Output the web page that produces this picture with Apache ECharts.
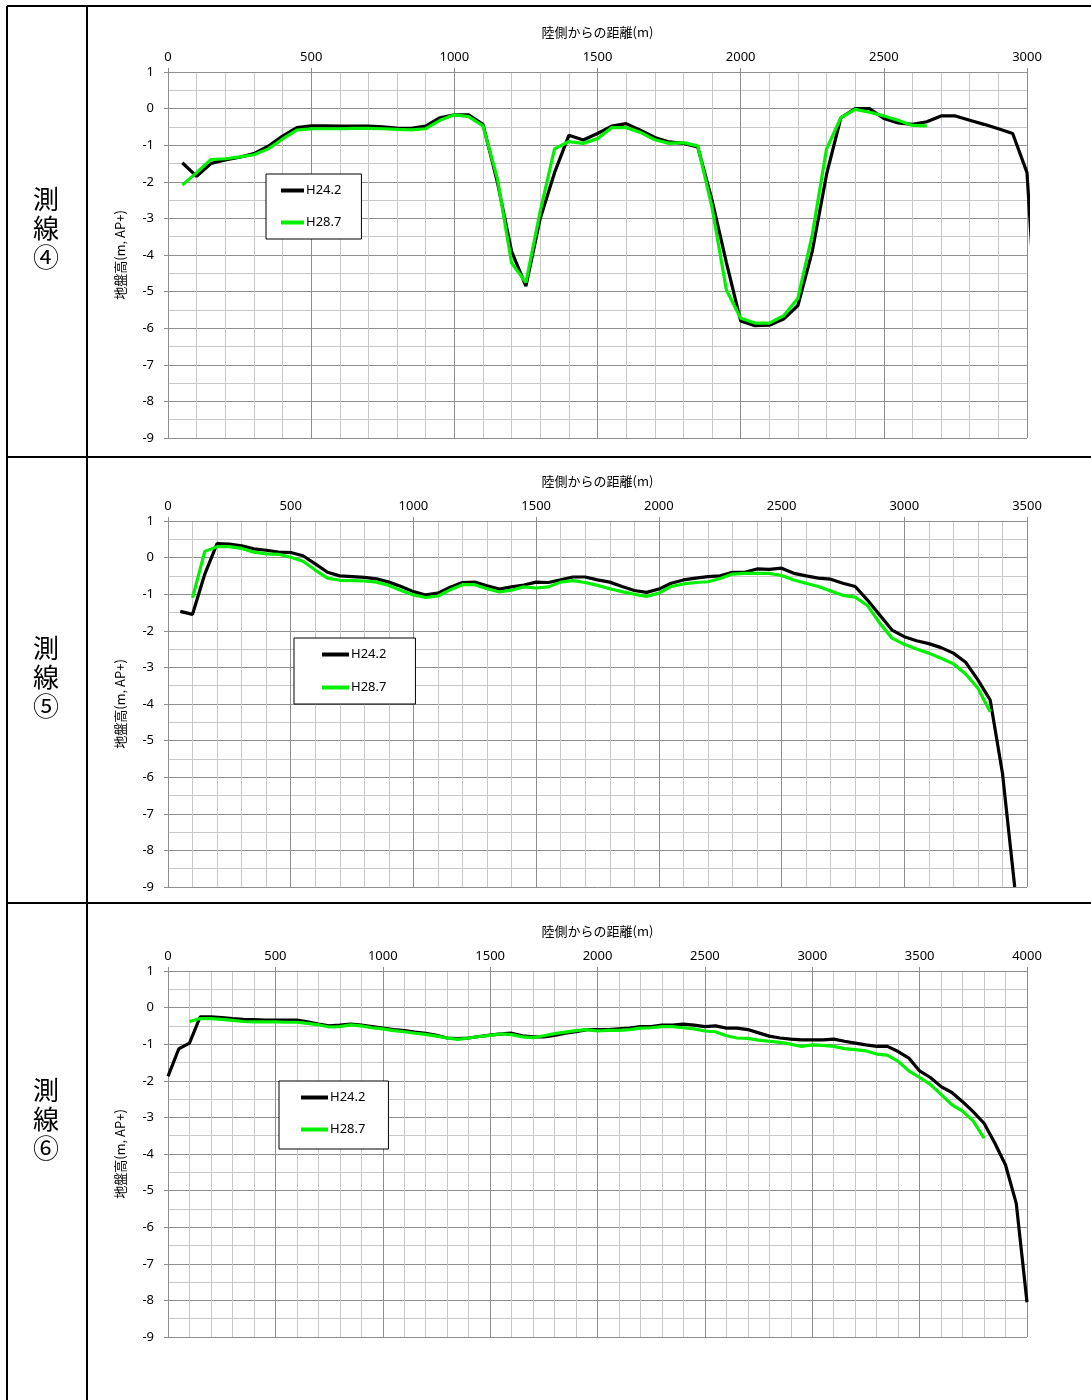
<!DOCTYPE html>
<html>
<head>
    <meta charset="utf-8">
    <title>測線 地盤高</title>
    <script src="https://cdn.jsdelivr.net/npm/echarts@6/dist/echarts.min.js"></script>
    <style>
        body { margin: 0; background: #fff; }
    </style>
</head>
<body>
    <div id="main" style="width: 1091px;height:1400px;"></div>
    <script type="text/javascript">
        // 陸側からの距離(m)
        var dist4 = [50,100,150,200,250,300,350,400,450,500,550,600,650,700,750,800,850,900,950,1000,
            1050,1100,1150,1200,1250,1300,1350,1400,1450,1500,1550,1600,1650,1700,1750,1800,1850,1900,1950,2000,
            2050,2100,2150,2200,2250,2300,2350,2400,2450,2500,2550,2600,2650,2700,2750,2800,2850,2900,2950,3000,3050];
        var dist5 = [50,100,150,200,250,300,350,400,450,500,550,600,650,700,750,800,850,900,950,1000,
            1050,1100,1150,1200,1250,1300,1350,1400,1450,1500,1550,1600,1650,1700,1750,1800,1850,1900,1950,2000,
            2050,2100,2150,2200,2250,2300,2350,2400,2450,2500,2550,2600,2650,2700,2750,2800,2850,2900,2950,3000,
            3050,3100,3150,3200,3250,3300,3350,3400,3450];
        var dist6 = [0,50,100,150,200,250,300,350,400,450,500,550,600,650,700,750,800,850,900,950,1000,
            1050,1100,1150,1200,1250,1300,1350,1400,1450,1500,1550,1600,1650,1700,1750,1800,1850,1900,1950,2000,
            2050,2100,2150,2200,2250,2300,2350,2400,2450,2500,2550,2600,2650,2700,2750,2800,2850,2900,2950,3000,
            3050,3100,3150,3200,3250,3300,3350,3400,3450,3500,3550,3600,3650,3700,3750,3800,3850,3900,3950,4000];

        // 地盤高(m, AP+)  測線④
        var l4_h24 = [-1.48,-1.85,-1.5,-1.4,-1.33,-1.23,-1.03,-0.75,-0.52,-0.47,
            -0.47,-0.48,-0.48,-0.48,-0.5,-0.53,-0.54,-0.48,-0.25,-0.17,
            -0.17,-0.43,-2.0,-3.9,-4.85,-3.0,-1.75,-0.73,-0.86,-0.68,
            -0.48,-0.41,-0.59,-0.79,-0.91,-0.95,-1.05,-2.5,-4.2,-5.8,
            -5.93,-5.92,-5.75,-5.38,-3.9,-1.8,-0.25,0.0,0.0,-0.27,
            -0.39,-0.43,-0.36,-0.2,-0.2,-0.32,-0.43,-0.55,-0.68,-1.75,
            -8.0];
        var l4_h28 = [-2.09,-1.75,-1.39,-1.37,-1.32,-1.26,-1.1,-0.83,-0.59,-0.55,
            -0.55,-0.55,-0.54,-0.54,-0.55,-0.57,-0.58,-0.55,-0.32,-0.17,
            -0.22,-0.47,-1.9,-4.22,-4.75,-2.8,-1.1,-0.9,-0.95,-0.82,
            -0.52,-0.52,-0.65,-0.85,-0.95,-0.93,-1.02,-2.7,-4.95,-5.73,
            -5.86,-5.86,-5.66,-5.18,-3.45,-1.1,-0.25,-0.02,-0.1,-0.2,
            -0.32,-0.46,-0.47,null,null,null,null,null,null,null,
            null];
        // 測線⑤
        var l5_h24 = [-1.47,-1.55,-0.45,0.38,0.37,0.32,0.24,0.2,0.15,0.14,
            0.05,-0.17,-0.4,-0.5,-0.52,-0.54,-0.58,-0.67,-0.79,-0.93,
            -1.02,-0.97,-0.81,-0.68,-0.67,-0.77,-0.86,-0.8,-0.75,-0.67,
            -0.68,-0.61,-0.53,-0.53,-0.61,-0.67,-0.79,-0.9,-0.95,-0.86,
            -0.7,-0.61,-0.56,-0.52,-0.5,-0.4,-0.4,-0.31,-0.32,-0.29,
            -0.43,-0.5,-0.56,-0.59,-0.7,-0.79,-1.16,-1.57,-1.98,-2.16,
            -2.27,-2.35,-2.46,-2.61,-2.86,-3.34,-3.89,-5.89,-9.0];
        var l5_h28 = [null,-1.1,0.17,0.3,0.3,0.25,0.15,0.1,0.09,0.01,
            -0.1,-0.34,-0.56,-0.62,-0.63,-0.64,-0.67,-0.76,-0.9,-1.02,
            -1.09,-1.05,-0.88,-0.74,-0.74,-0.85,-0.94,-0.89,-0.8,-0.83,
            -0.8,-0.67,-0.63,-0.68,-0.76,-0.85,-0.93,-1.0,-1.06,-0.97,
            -0.79,-0.72,-0.68,-0.66,-0.57,-0.45,-0.43,-0.43,-0.43,-0.49,
            -0.61,-0.7,-0.79,-0.91,-1.03,-1.08,-1.31,-1.79,-2.2,-2.37,
            -2.5,-2.61,-2.75,-2.9,-3.18,-3.57,-4.21,null,null];
        // 測線⑥
        var l6_h24 = [-1.88,-1.13,-0.97,-0.25,-0.25,-0.27,-0.3,-0.32,-0.33,-0.34,-0.34,
            -0.34,-0.34,-0.39,-0.45,-0.5,-0.48,-0.45,-0.48,-0.52,-0.56,
            -0.6,-0.63,-0.67,-0.7,-0.76,-0.83,-0.85,-0.83,-0.79,-0.75,
            -0.72,-0.7,-0.77,-0.8,-0.8,-0.76,-0.7,-0.66,-0.6,-0.6,
            -0.6,-0.58,-0.56,-0.52,-0.52,-0.48,-0.48,-0.45,-0.48,-0.52,
            -0.5,-0.56,-0.56,-0.6,-0.69,-0.78,-0.83,-0.86,-0.88,-0.88,
            -0.88,-0.86,-0.92,-0.97,-1.02,-1.06,-1.06,-1.2,-1.38,-1.73,
            -1.91,-2.16,-2.32,-2.57,-2.85,-3.16,-3.7,-4.3,-5.35,-8.05];
        var l6_h28 = [null,null,-0.38,-0.3,-0.3,-0.32,-0.35,-0.38,-0.39,-0.39,-0.39,
            -0.4,-0.4,-0.43,-0.47,-0.53,-0.52,-0.47,-0.5,-0.55,-0.58,
            -0.63,-0.66,-0.7,-0.73,-0.78,-0.83,-0.87,-0.83,-0.79,-0.76,
            -0.72,-0.74,-0.8,-0.82,-0.77,-0.71,-0.67,-0.63,-0.6,-0.64,
            -0.62,-0.62,-0.6,-0.56,-0.55,-0.52,-0.52,-0.55,-0.58,-0.64,
            -0.66,-0.77,-0.83,-0.84,-0.89,-0.92,-0.95,-1.0,-1.06,-1.02,
            -1.03,-1.06,-1.12,-1.15,-1.18,-1.27,-1.3,-1.47,-1.73,-1.91,
            -2.1,-2.37,-2.65,-2.83,-3.1,-3.57,null,null,null,null];

        var xMax = [3000, 3500, 4000];
        var rowLabels = ['測\n線\n④', '測\n線\n⑤', '測\n線\n⑥'];
        var seriesNames = ['H24.2', 'H28.7'];

        function pairs(dist, vals) {
            var out = [];
            for (var i = 0; i < dist.length; i++) {
                if (vals[i] !== null) out.push([dist[i], vals[i]]);
            }
            return out;
        }

        var lineData = [
            [pairs(dist4, l4_h24), pairs(dist4, l4_h28)],
            [pairs(dist5, l5_h24), pairs(dist5, l5_h28)],
            [pairs(dist6, l6_h24), pairs(dist6, l6_h28)]
        ];

        var gridTops = [72, 521, 971];
        var legendPos = [
            {left: 266, top: 174, itemWidth: 23, itemGap: 19, padding: [10, 20, 10, 15]},
            {left: 294, top: 638, itemWidth: 27, itemGap: 20, padding: [10, 29, 10, 28]},
            {left: 279, top: 1081, itemWidth: 27, itemGap: 19, padding: [10, 23, 13, 22]}
        ];
        var labelY = [229, 678, 1120];

        var numFont = "'Noto Sans', 'Noto Sans CJK JP', sans-serif";
        var jpFont = "'Noto Sans CJK JP', sans-serif";
        var majorColor = '#8e8e8e';
        var minorColor = '#c8c8c8';

        var option = {
            animation: false,
            backgroundColor: '#fff',
            grid: [], xAxis: [], yAxis: [], series: [], legend: [],
            graphic: []
        };

        for (var k = 0; k < 3; k++) {
            option.grid.push({left: 168, top: gridTops[k], width: 859, height: 366});
            option.xAxis.push({
                type: 'value', gridIndex: k, position: 'top',
                min: 0, max: xMax[k], interval: 500,
                name: '陸側からの距離(m)', nameLocation: 'middle', nameGap: 33,
                nameTextStyle: {fontFamily: jpFont, fontSize: 13, color: '#000'},
                axisLine: {onZero: false, lineStyle: {color: majorColor}},
                axisTick: {show: true, length: 4, lineStyle: {color: majorColor}},
                axisLabel: {fontFamily: numFont, fontSize: 13, color: '#000', margin: 8,
                    formatter: function (v) { return String(v); }},
                splitLine: {show: true, lineStyle: {color: majorColor, width: 1}},
                minorTick: {show: false, splitNumber: 5},
                minorSplitLine: {show: true, lineStyle: {color: minorColor, width: 1}}
            });
            option.yAxis.push({
                type: 'value', gridIndex: k,
                min: -9, max: 1, interval: 1,
                name: '地盤高(m, AP+)', nameLocation: 'middle', nameGap: 41, nameRotate: 90,
                nameTextStyle: {fontFamily: jpFont, fontSize: 13, color: '#000'},
                axisLine: {show: true, onZero: false, lineStyle: {color: majorColor}},
                axisTick: {show: true, length: 4, lineStyle: {color: majorColor}},
                axisLabel: {fontFamily: numFont, fontSize: 13, color: '#000', margin: 14},
                splitLine: {show: true, lineStyle: {color: majorColor, width: 1}},
                minorTick: {show: false, splitNumber: 2},
                minorSplitLine: {show: true, lineStyle: {color: minorColor, width: 1}}
            });
            option.series.push({
                name: seriesNames[0], type: 'line', xAxisIndex: k, yAxisIndex: k,
                data: lineData[k][0], showSymbol: false, symbol: 'none', clip: true,
                color: '#000', lineStyle: {color: '#000', width: 3.2}
            });
            option.series.push({
                name: seriesNames[1], type: 'line', xAxisIndex: k, yAxisIndex: k,
                data: lineData[k][1], showSymbol: false, symbol: 'none', clip: true,
                color: '#00f000', lineStyle: {color: '#00f000', width: 3.2}
            });
            var lp = legendPos[k];
            option.legend.push({
                data: seriesNames, orient: 'vertical', selectedMode: false,
                left: lp.left, top: lp.top, padding: lp.padding,
                itemWidth: lp.itemWidth, itemHeight: 4, itemGap: lp.itemGap,
                icon: 'rect',
                backgroundColor: '#fff', borderColor: '#000', borderWidth: 1,
                textStyle: {fontFamily: numFont, fontSize: 13, color: '#000', padding: [0, 0, 0, -3]}
            });
            option.graphic.push({
                type: 'text', left: 47 - 14, top: labelY[k] - 44, z: 10,
                style: {
                    text: rowLabels[k], fill: '#000',
                    font: '26px ' + jpFont, lineHeight: 29, align: 'center'
                }
            });
        }

        // 表の罫線
        var tableLines = [
            [7, 6, 1091, 6], [7, 6, 7, 1400], [87, 6, 87, 1400],
            [7, 457, 1091, 457], [7, 903, 1091, 903]
        ];
        tableLines.forEach(function (l) {
            option.graphic.push({
                type: 'line', z: 10,
                shape: {x1: l[0], y1: l[1], x2: l[2], y2: l[3]},
                style: {stroke: '#000', lineWidth: 2}
            });
        });

        var myChart = echarts.init(document.getElementById('main'));
        myChart.setOption(option);
    </script>
</body>
</html>
